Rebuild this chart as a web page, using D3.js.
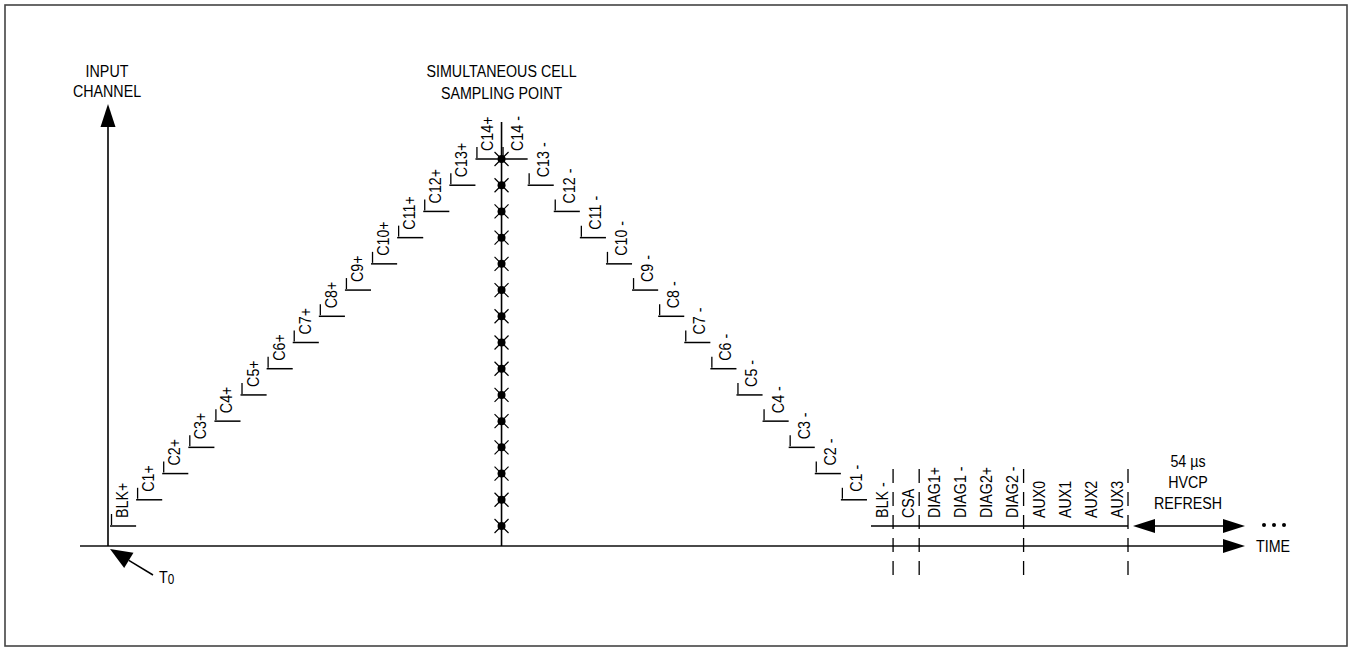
<!DOCTYPE html>
<html>
<head>
<meta charset="utf-8">
<script src="https://cdn.jsdelivr.net/npm/d3@7"></script>
<style>
  html, body { margin: 0; padding: 0; background: #fff; }
  svg text { font-family: "Liberation Sans", Arial, sans-serif; fill: #000; }
</style>
</head>
<body>
<svg id="chart" width="1351" height="652"></svg>
<script>
// ---- data ----
const upLabels   = ["BLK+","C1+","C2+","C3+","C4+","C5+","C6+","C7+","C8+","C9+","C10+","C11+","C12+","C13+","C14+"];
const upLevels   = [0,1,2,3,4,5,6,7,8,9,10,11,12,13,14];
const upSlots    = [0,1,2,3,4,5,6,7,8,9,10,11,12,13,14];
const downLabels = ["C14 -","C13 -","C12 -","C11 -","C10 -","C9 -","C8 -","C7 -","C6 -","C5 -","C4 -","C3 -","C2 -","C1 -"];
const downLevels = [14,13,12,11,10,9,8,7,6,5,4,3,2,1];
const downSlots  = [15,16,17,18,19,20,21,22,23,24,25,26,27,28];
const tailLabels = ["BLK -","CSA","DIAG1+","DIAG1 -","DIAG2+","DIAG2 -","AUX0","AUX1","AUX2","AUX3"];
const tailSlots  = [29,30,31,32,33,34,35,36,37,38];
const boundarySlots = [30,31,35,39];
const sampleLevels = [0,1,2,3,4,5,6,7,8,9,10,11,12,13,14];
const refreshLines = ["54 µs","HVCP","REFRESH"];
const titleLines = ["SIMULTANEOUS CELL","SAMPLING POINT"];
const yTitleLines = ["INPUT","CHANNEL"];

// ---- scales ----
const x = d3.scaleLinear().domain([0, 39]).range([110, 1128]);
const y = d3.scaleLinear().domain([0, 14]).range([526, 159]);
const slotW = x(1) - x(0);
const axisY = 546, axisX = 108;
const sampleX = x(15);

const svg = d3.select("#chart");
const FS = 17;
const SX = 0.84; // condensed look (Arial Narrow style)

function label(parent, tx, ty, str, opts = {}) {
  const rot = opts.rotate ? " rotate(-90)" : "";
  return parent.append("text")
    .attr("transform", `translate(${tx},${ty})${rot} scale(${SX},1)`)
    .attr("text-anchor", opts.anchor || "start")
    .attr("font-size", opts.size || FS)
    .text(str);
}

// frame
svg.append("rect").attr("x", 5).attr("y", 5).attr("width", 1342).attr("height", 641)
  .attr("fill", "none").attr("stroke", "#444").attr("stroke-width", 1.6);

// axes
svg.append("line").attr("x1", 80).attr("x2", 1226).attr("y1", axisY).attr("y2", axisY)
  .attr("stroke", "#4a4a4a").attr("stroke-width", 2);
svg.append("path").attr("d", `M1245,${axisY} L1223,${axisY-7} L1223,${axisY+7} Z`).attr("fill", "#000");
label(svg, 1256, axisY + 6, "TIME");

svg.append("line").attr("x1", axisX).attr("x2", axisX).attr("y1", axisY).attr("y2", 122)
  .attr("stroke", "#000").attr("stroke-width", 1.6);
svg.append("path").attr("d", `M${axisX},104 L${axisX-7.5},127 L${axisX+7.5},127 Z`).attr("fill", "#000");
yTitleLines.forEach((d, i) => label(svg, 107, 77 + i * 20, d, { anchor: "middle" }));

// T0 pointer
(function () {
  const tip = [110, 549], tail = [153, 575];
  const dx = tail[0] - tip[0], dy = tail[1] - tip[1];
  const L = Math.hypot(dx, dy), ux = dx / L, uy = dy / L;
  const hl = 22, hw = 9;
  const bx = tip[0] + ux * hl, by = tip[1] + uy * hl;
  svg.append("line").attr("x1", bx).attr("y1", by).attr("x2", tail[0]).attr("y2", tail[1])
    .attr("stroke", "#000").attr("stroke-width", 1.5);
  svg.append("path").attr("d", `M${tip[0]},${tip[1]} L${bx - uy * hw},${by + ux * hw} L${bx + uy * hw},${by - ux * hw} Z`)
    .attr("fill", "#000");
  const t = svg.append("text").attr("transform", `translate(159,583) scale(${SX},1)`).attr("font-size", FS);
  t.append("tspan").text("T");
  t.append("tspan").attr("font-size", 14).attr("dy", 1).text("0");
})();

// sampling point line & title
svg.append("line").attr("x1", sampleX).attr("x2", sampleX).attr("y1", 122).attr("y2", axisY)
  .attr("stroke", "#000").attr("stroke-width", 1.6);
titleLines.forEach((d, i) => label(svg, sampleX, 77 + i * 22, d, { anchor: "middle" }));

const mk = svg.append("g").selectAll("g").data(sampleLevels).join("g")
  .attr("transform", d => `translate(${sampleX},${y(d)})`);
mk.append("path").attr("d", "M-7,-7L7,7M-7,7L7,-7").attr("stroke", "#000").attr("stroke-width", 1.2);
mk.append("circle").attr("r", 4).attr("fill", "#000");

// staircase
function steps(labels, levels, slots, labelOff) {
  const g = svg.append("g");
  labels.forEach((lab, i) => {
    const x0 = x(slots[i]), yy = y(levels[i]);
    g.append("line").attr("x1", x0).attr("x2", x0 + slotW).attr("y1", yy).attr("y2", yy)
      .attr("stroke", "#000").attr("stroke-width", 1.5);
    g.append("line").attr("x1", x0 + 1.5).attr("x2", x0 + 1.5).attr("y1", yy - 12).attr("y2", yy - 1)
      .attr("stroke", "#000").attr("stroke-width", 1.3);
    label(g, x0 + labelOff, yy - 8, lab, { rotate: true });
  });
}
steps(upLabels, upLevels, upSlots, 18);
steps(downLabels, downLevels, downSlots, 21);

// tail
svg.append("line").attr("x1", x(29) + 4).attr("x2", x(39)).attr("y1", y(0)).attr("y2", y(0))
  .attr("stroke", "#000").attr("stroke-width", 1.5);
const tg = svg.append("g");
tailLabels.forEach((d, i) => label(tg, x(tailSlots[i]) + 21, y(0) - 8, d, { rotate: true }));
svg.append("g").selectAll("line").data(boundarySlots).join("line")
  .attr("x1", d => x(d)).attr("x2", d => x(d)).attr("y1", 469).attr("y2", 576)
  .attr("stroke", "#000").attr("stroke-width", 1.3).attr("stroke-dasharray", "14,9");

// HVCP refresh double arrow
const ry = y(0);
svg.append("line").attr("x1", 1150).attr("x2", 1226).attr("y1", ry).attr("y2", ry)
  .attr("stroke", "#000").attr("stroke-width", 1.5);
svg.append("path").attr("d", `M1133,${ry} L1155,${ry-7} L1155,${ry+7} Z`).attr("fill", "#000");
svg.append("path").attr("d", `M1245,${ry} L1223,${ry-7} L1223,${ry+7} Z`).attr("fill", "#000");
svg.selectAll("circle.dot").data([1264, 1274, 1284]).join("circle").attr("class", "dot")
  .attr("cx", d => d).attr("cy", ry - 1).attr("r", 2).attr("fill", "#000");
refreshLines.forEach((d, i) => label(svg, 1188, 467 + i * 21, d, { anchor: "middle" }));
</script>
</body>
</html>
